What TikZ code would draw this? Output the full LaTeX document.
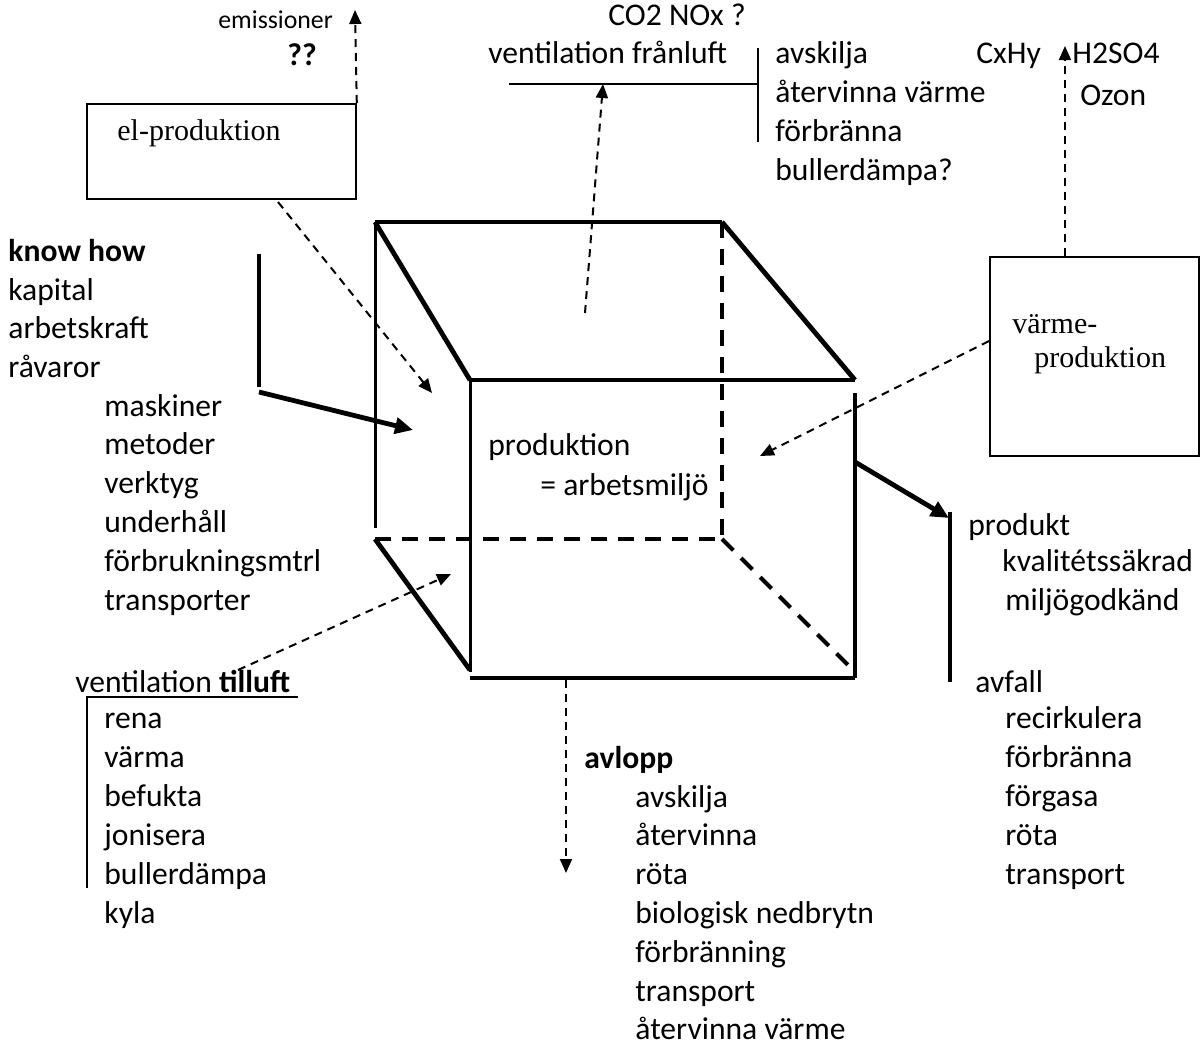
\documentclass[tikz,border=0pt]{standalone}
\usepackage{fontspec}
\setmainfont{Carlito}
\newfontfamily\boxserif{Liberation Serif}
\usetikzlibrary{arrows.meta,positioning}
\newcommand{\diagfont}{\fontsize{15.8}{19}\selectfont}

\begin{document}
\begin{tikzpicture}[x=0.5pt,y=-0.5pt]
        \tikzstyle{item}=[anchor=west,inner sep=0pt,font=\diagfont,text height=0.7em,text depth=0.2em]
        \tikzstyle{plantbox}=[draw,line width=0.9pt,anchor=north west,inner sep=0pt]
        \tikzstyle{wall}=[line width=1.5pt]
        \tikzstyle{rim}=[line width=2.4pt]
        \tikzstyle{hidden}=[line width=2pt,dash pattern=on 8pt off 5.5pt]
        \tikzstyle{bar}=[line width=1pt]
        \tikzstyle{flow}=[line width=1pt,dash pattern=on 4pt off 3pt,-{Triangle[length=7pt,width=6pt]}]
        \tikzstyle{push}=[line width=2.4pt,-{Triangle[length=9pt,width=8pt]}]
        \useasboundingbox (0,0) rectangle (1201,1050);

        % cube corners
        \coordinate (btl) at (375,222);
        \coordinate (btr) at (722,222);
        \coordinate (bbl) at (375,539);
        \coordinate (bbr) at (722,539);
        \coordinate (ftl) at (470,380);
        \coordinate (ftr) at (855,380);
        \coordinate (fbl) at (470,678);
        \coordinate (fbr) at (855,678);

        % cube
        \draw[line width=2pt] (btl) -- (btr);
        \draw[rim] (btl) -- (ftl);
        \draw[rim] (btr) -- (ftr);
        \draw[rim] (ftl) -- (ftr);
        \draw[wall] (btl) -- (375,528);
        \draw[wall] (ftl) -- (470,672);
        \draw[rim] (855,393) -- (fbr);
        \draw[rim] (fbl) -- (fbr);
        \draw[rim] (bbl) -- (470,670);
        \draw[hidden] (btr) -- (bbr);
        \draw[hidden] (bbl) -- (bbr);
        \draw[hidden] (bbr) -- (853,670);

        \node[item] (prod) at (488,450) {produktion};
        \node[item] (milj) at (540,490) {= arbetsmiljö};

        % el-produktion
        \node[plantbox,minimum width=134.5pt,minimum height=47.5pt] (elbox) at (86,103) {};
        \node[item,font=\boxserif\fontsize{15}{18}\selectfont] (eltext) at (117,135) {el-produktion};
        \coordinate (elemis) at (355,10);
        \draw[flow] (elbox.north east) -- (elemis);
        \node[item,font=\fontsize{12.9}{15}\selectfont] (emis) at (218,23) {emissioner};
        \node[item,font=\diagfont\bfseries] (qq) at (287,60) {??};
        \coordinate (elout) at (278,202);
        \coordinate (elin) at (432,393);
        \draw[flow] (elout) -- (elin);

        % värme-produktion
        \node[plantbox,minimum width=104.5pt,minimum height=99.5pt] (vbox) at (989,256) {};
        \node[item,font=\boxserif\fontsize{15}{18}\selectfont] (vtext1) at (1012,328) {värme-};
        \node[item,font=\boxserif\fontsize{15}{18}\selectfont] (vtext2) at (1034,362) {produktion};
        \coordinate (vtop) at (1065,256);
        \coordinate (vemis) at (1065,46);
        \draw[flow] (vtop) -- (vemis);
        \node[item] (cxhy) at (976,58) {CxHy};
        \node[item] (h2so4) at (1072,58) {H2SO4};
        \node[item] (ozon) at (1080,100) {Ozon};
        \coordinate (vout) at (989,341);
        \coordinate (vin) at (760,456);
        \draw[flow] (vout) -- (vin);

        % ventilation frånluft
        \coordinate (roof) at (585,313);
        \coordinate (exh) at (603,84);
        \draw[flow] (roof) -- (exh);
        \draw[bar] (509,84) -- (758,84);
        \draw[bar] (758,48) -- (758,142);
        \node[item] (co2) at (608,20) {CO2 NOx ?};
        \node[item] (franluft) at (488,58) {ventilation frånluft};
        \foreach \w [count=\i from 0] in {avskilja,återvinna värme,förbränna,bullerdämpa?}
          \node[item] (exh\i) at (775,58+39.3*\i) {\w};

        % know how
        \node[item,font=\diagfont\bfseries] (knowhow) at (8,256) {know how};
        \foreach \w [count=\i from 0] in {kapital,arbetskraft,råvaror}
          \node[item] (res\i) at (8,295+38.6*\i) {\w};
        \foreach \w [count=\i from 0] in {maskiner,metoder,verktyg,underhåll,förbrukningsmtrl,transporter}
          \node[item] (tool\i) at (104,411+38.9*\i) {\w};
        \coordinate (kbar) at (259,254);
        \coordinate (kfoot) at (259,392);
        \coordinate (kin) at (413,430);
        \draw[rim] (kbar) -- (259,387);
        \draw[push] (kfoot) -- (kin);

        % ventilation tilluft
        \node[item] (tilluft) at (75,687) {ventilation \textbf{tilluft}};
        \draw[bar] (298,697) -- (87,697) -- (87,888);
        \foreach \w [count=\i from 0] in {rena,värma,befukta,jonisera,bullerdämpa,kyla}
          \node[item] (sup\i) at (104,723+39*\i) {\w};
        \coordinate (supout) at (238,670);
        \coordinate (supin) at (451,574);
        \draw[flow] (supout) -- (supin);

        % avlopp
        \coordinate (drain) at (566,680);
        \coordinate (drainend) at (566,873);
        \draw[flow] (drain) -- (drainend);
        \node[item,font=\diagfont\bfseries] (avlopp) at (584,763) {avlopp};
        \foreach \w [count=\i from 0] in {avskilja,återvinna,röta,biologisk nedbrytn,förbränning,transport,återvinna värme}
          \node[item] (drn\i) at (635,802+38.8*\i) {\w};

        % produkt / avfall
        \coordinate (pout) at (855,462);
        \coordinate (pin) at (949,518);
        \draw[push] (pout) -- (pin);
        \draw[rim] (950,512) -- (950,682);
        \node[item] (produkt) at (968,530) {produkt};
        \node[item] (kval) at (1002,566) {kvalitétssäkrad};
        \node[item] (miljo) at (1005,605) {miljögodkänd};
        \node[item] (avfall) at (975,687) {avfall};
        \foreach \w [count=\i from 0] in {recirkulera,förbränna,förgasa,röta,transport}
          \node[item] (waste\i) at (1005,723+39*\i) {\w};
      \end{tikzpicture}
\end{document}
